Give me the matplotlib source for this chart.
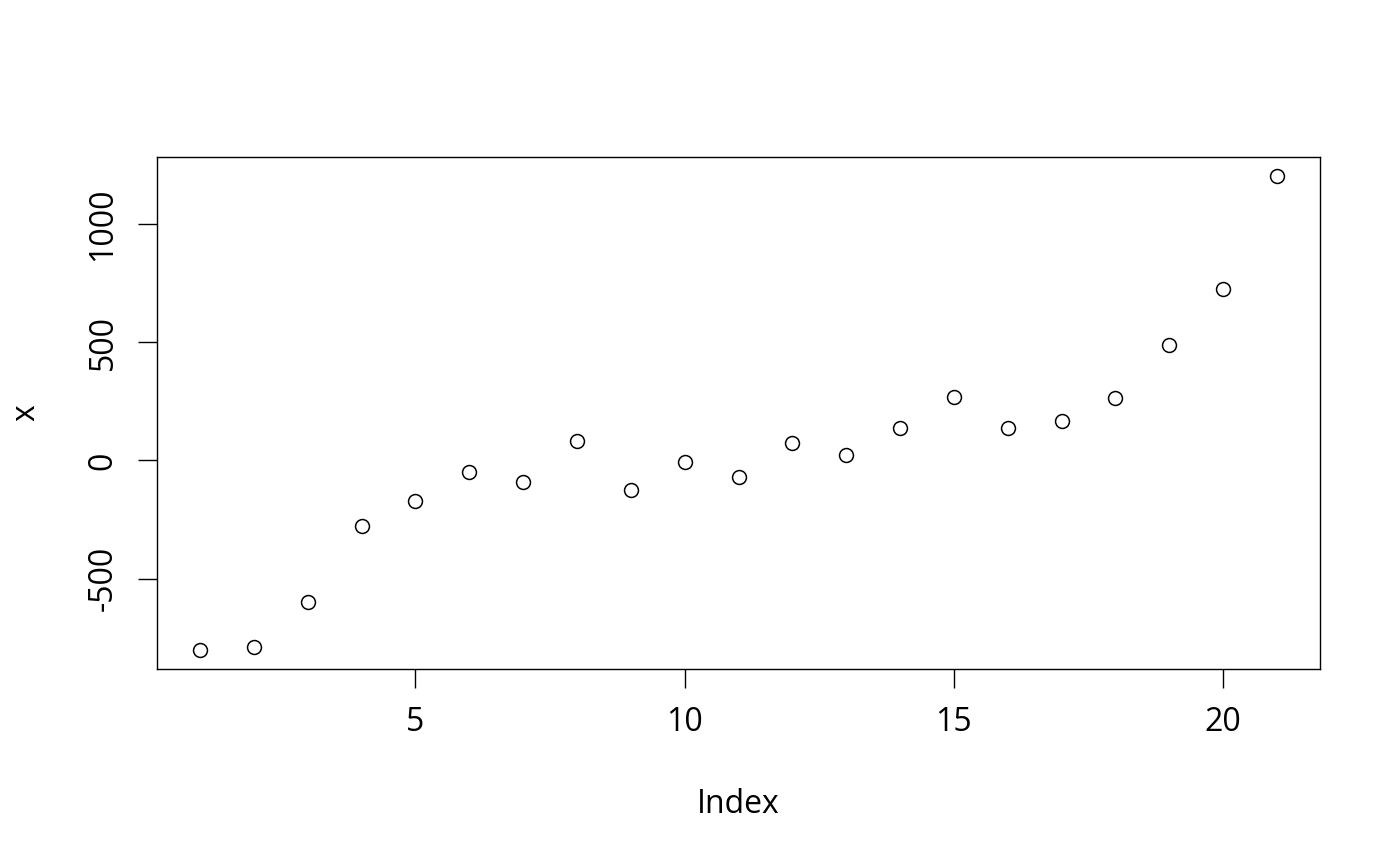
import matplotlib
matplotlib.use("Agg")
from matplotlib import pyplot as plt

# values (R base plot of x against its index)
index = list(range(1, 22))
x = [-802, -789, -599, -278, -173, -51, -93, 84, -127, -8,
     -72, 72, 21, 139, 270, 139, 165, 262, 489, 726, 1203]

x_ticks = [5, 10, 15, 20]
y_ticks = [-500, 0, 500, 1000]

plt.rcParams["font.family"] = ["Open Sans", "DejaVu Sans"]

fig = plt.figure(figsize=(14, 8.66), dpi=100)
ax = fig.add_axes([0.1121, 0.2275, 0.8308, 0.5912])

ax.plot(index, x, linestyle="none", marker="o", markersize=10,
        markerfacecolor="none", markeredgecolor="black", markeredgewidth=1.1)

# R pads the data range by 4% on each side
xr = max(index) - min(index)
yr = max(x) - min(x)
ax.set_xlim(min(index) - 0.04 * xr, max(index) + 0.04 * xr)
ax.set_ylim(min(x) - 0.04 * yr, max(x) + 0.04 * yr)

ax.set_xticks(x_ticks)
ax.set_yticks(y_ticks)
ax.set_yticklabels([str(v) for v in y_ticks], rotation=90, va="center")
ax.tick_params(axis="both", direction="out", length=14, width=1,
               labelsize=23, pad=13)

for s in ax.spines.values():
    s.set_linewidth(1)

ax.set_xlabel("Index", fontsize=23, va="center")
ax.set_ylabel("x", fontsize=23, va="center")
ax.xaxis.set_label_coords(0.5, -0.264)
ax.yaxis.set_label_coords(-0.1126, 0.5)

fig.savefig("out.png", dpi=100)
